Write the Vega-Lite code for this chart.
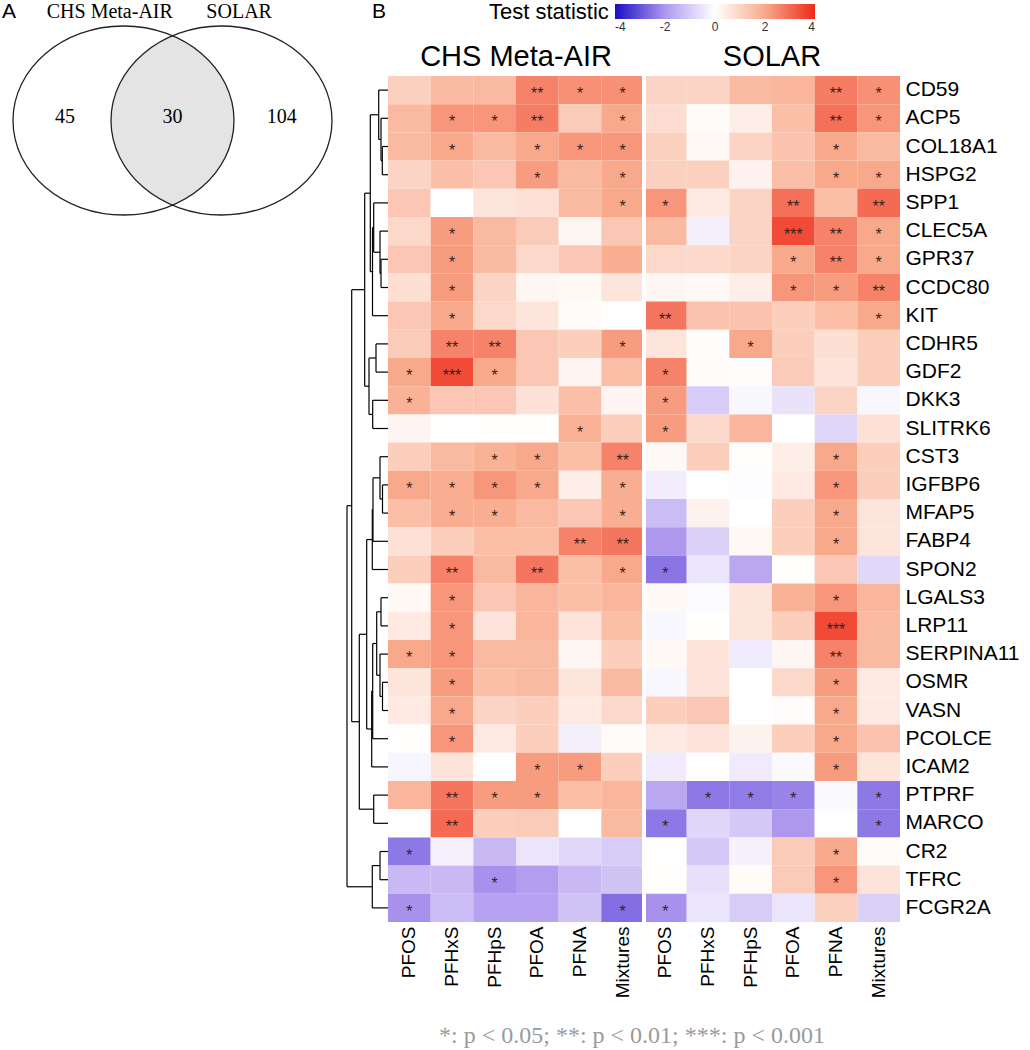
{
  "$schema": "https://vega.github.io/schema/vega-lite/v6.json",
  "autosize": {"type": "none"},
  "padding": {"left": 388, "top": 76, "right": 130, "bottom": 128},
  "width": 512,
  "height": 846,
  "background": "white",
  "config": {"view": {"stroke": null}, "text": {"font": "Liberation Sans"}, "axis": {"labelFont": "Liberation Sans"}, "legend": {"labelFont": "Liberation Sans", "titleFont": "Liberation Sans"}},
  "title": {"text": "*: p < 0.05; **: p < 0.01; ***: p < 0.001", "orient": "bottom", "anchor": "middle", "frame": "group", "font": "Liberation Serif", "fontSize": 24, "fontWeight": "normal", "color": "#9A9A9A", "offset": 26, "dx": -12},
  "datasets": {
    "cells": [
      {"g":"CD59","c":"CHS|PFOS","t":1.1,"s":""},{"g":"CD59","c":"CHS|PFHxS","t":1.6,"s":""},{"g":"CD59","c":"CHS|PFHpS","t":1.6,"s":""},{"g":"CD59","c":"CHS|PFOA","t":2.6,"s":"**"},{"g":"CD59","c":"CHS|PFNA","t":2.4,"s":"*"},{"g":"CD59","c":"CHS|Mixtures","t":2.4,"s":"*"},
      {"g":"CD59","c":"SOLAR|PFOS","t":1.0,"s":""},{"g":"CD59","c":"SOLAR|PFHxS","t":1.0,"s":""},{"g":"CD59","c":"SOLAR|PFHpS","t":1.6,"s":""},{"g":"CD59","c":"SOLAR|PFOA","t":1.7,"s":""},{"g":"CD59","c":"SOLAR|PFNA","t":2.7,"s":"**"},{"g":"CD59","c":"SOLAR|Mixtures","t":2.4,"s":"*"},
      {"g":"ACP5","c":"CHS|PFOS","t":1.6,"s":""},{"g":"ACP5","c":"CHS|PFHxS","t":2.3,"s":"*"},{"g":"ACP5","c":"CHS|PFHpS","t":2.3,"s":"*"},{"g":"ACP5","c":"CHS|PFOA","t":2.7,"s":"**"},{"g":"ACP5","c":"CHS|PFNA","t":1.2,"s":""},{"g":"ACP5","c":"CHS|Mixtures","t":2.0,"s":"*"},
      {"g":"ACP5","c":"SOLAR|PFOS","t":0.8,"s":""},{"g":"ACP5","c":"SOLAR|PFHxS","t":0.1,"s":""},{"g":"ACP5","c":"SOLAR|PFHpS","t":0.4,"s":""},{"g":"ACP5","c":"SOLAR|PFOA","t":1.5,"s":""},{"g":"ACP5","c":"SOLAR|PFNA","t":2.9,"s":"**"},{"g":"ACP5","c":"SOLAR|Mixtures","t":2.3,"s":"*"},
      {"g":"COL18A1","c":"CHS|PFOS","t":1.6,"s":""},{"g":"COL18A1","c":"CHS|PFHxS","t":2.0,"s":"*"},{"g":"COL18A1","c":"CHS|PFHpS","t":1.6,"s":""},{"g":"COL18A1","c":"CHS|PFOA","t":2.0,"s":"*"},{"g":"COL18A1","c":"CHS|PFNA","t":2.3,"s":"*"},{"g":"COL18A1","c":"CHS|Mixtures","t":2.3,"s":"*"},
      {"g":"COL18A1","c":"SOLAR|PFOS","t":1.1,"s":""},{"g":"COL18A1","c":"SOLAR|PFHxS","t":0.15,"s":""},{"g":"COL18A1","c":"SOLAR|PFHpS","t":1.0,"s":""},{"g":"COL18A1","c":"SOLAR|PFOA","t":1.4,"s":""},{"g":"COL18A1","c":"SOLAR|PFNA","t":2.0,"s":"*"},{"g":"COL18A1","c":"SOLAR|Mixtures","t":1.6,"s":""},
      {"g":"HSPG2","c":"CHS|PFOS","t":1.0,"s":""},{"g":"HSPG2","c":"CHS|PFHxS","t":1.5,"s":""},{"g":"HSPG2","c":"CHS|PFHpS","t":1.3,"s":""},{"g":"HSPG2","c":"CHS|PFOA","t":2.2,"s":"*"},{"g":"HSPG2","c":"CHS|PFNA","t":1.6,"s":""},{"g":"HSPG2","c":"CHS|Mixtures","t":2.0,"s":"*"},
      {"g":"HSPG2","c":"SOLAR|PFOS","t":1.1,"s":""},{"g":"HSPG2","c":"SOLAR|PFHxS","t":1.1,"s":""},{"g":"HSPG2","c":"SOLAR|PFHpS","t":0.3,"s":""},{"g":"HSPG2","c":"SOLAR|PFOA","t":1.5,"s":""},{"g":"HSPG2","c":"SOLAR|PFNA","t":2.0,"s":"*"},{"g":"HSPG2","c":"SOLAR|Mixtures","t":2.0,"s":"*"},
      {"g":"SPP1","c":"CHS|PFOS","t":1.3,"s":""},{"g":"SPP1","c":"CHS|PFHxS","t":0.0,"s":""},{"g":"SPP1","c":"CHS|PFHpS","t":0.6,"s":""},{"g":"SPP1","c":"CHS|PFOA","t":0.7,"s":""},{"g":"SPP1","c":"CHS|PFNA","t":1.6,"s":""},{"g":"SPP1","c":"CHS|Mixtures","t":2.0,"s":"*"},
      {"g":"SPP1","c":"SOLAR|PFOS","t":2.3,"s":"*"},{"g":"SPP1","c":"SOLAR|PFHxS","t":0.5,"s":""},{"g":"SPP1","c":"SOLAR|PFHpS","t":1.0,"s":""},{"g":"SPP1","c":"SOLAR|PFOA","t":2.9,"s":"**"},{"g":"SPP1","c":"SOLAR|PFNA","t":1.5,"s":""},{"g":"SPP1","c":"SOLAR|Mixtures","t":3.0,"s":"**"},
      {"g":"CLEC5A","c":"CHS|PFOS","t":0.9,"s":""},{"g":"CLEC5A","c":"CHS|PFHxS","t":2.2,"s":"*"},{"g":"CLEC5A","c":"CHS|PFHpS","t":1.6,"s":""},{"g":"CLEC5A","c":"CHS|PFOA","t":1.2,"s":""},{"g":"CLEC5A","c":"CHS|PFNA","t":0.2,"s":""},{"g":"CLEC5A","c":"CHS|Mixtures","t":1.3,"s":""},
      {"g":"CLEC5A","c":"SOLAR|PFOS","t":1.6,"s":""},{"g":"CLEC5A","c":"SOLAR|PFHxS","t":-0.3,"s":""},{"g":"CLEC5A","c":"SOLAR|PFHpS","t":1.0,"s":""},{"g":"CLEC5A","c":"SOLAR|PFOA","t":3.5,"s":"***"},{"g":"CLEC5A","c":"SOLAR|PFNA","t":2.6,"s":"**"},{"g":"CLEC5A","c":"SOLAR|Mixtures","t":2.0,"s":"*"},
      {"g":"GPR37","c":"CHS|PFOS","t":1.3,"s":""},{"g":"GPR37","c":"CHS|PFHxS","t":2.2,"s":"*"},{"g":"GPR37","c":"CHS|PFHpS","t":1.6,"s":""},{"g":"GPR37","c":"CHS|PFOA","t":0.9,"s":""},{"g":"GPR37","c":"CHS|PFNA","t":1.3,"s":""},{"g":"GPR37","c":"CHS|Mixtures","t":1.9,"s":""},
      {"g":"GPR37","c":"SOLAR|PFOS","t":0.9,"s":""},{"g":"GPR37","c":"SOLAR|PFHxS","t":0.9,"s":""},{"g":"GPR37","c":"SOLAR|PFHpS","t":1.0,"s":""},{"g":"GPR37","c":"SOLAR|PFOA","t":2.0,"s":"*"},{"g":"GPR37","c":"SOLAR|PFNA","t":2.6,"s":"**"},{"g":"GPR37","c":"SOLAR|Mixtures","t":2.0,"s":"*"},
      {"g":"CCDC80","c":"CHS|PFOS","t":0.75,"s":""},{"g":"CCDC80","c":"CHS|PFHxS","t":2.2,"s":"*"},{"g":"CCDC80","c":"CHS|PFHpS","t":1.0,"s":""},{"g":"CCDC80","c":"CHS|PFOA","t":0.2,"s":""},{"g":"CCDC80","c":"CHS|PFNA","t":0.15,"s":""},{"g":"CCDC80","c":"CHS|Mixtures","t":0.6,"s":""},
      {"g":"CCDC80","c":"SOLAR|PFOS","t":0.2,"s":""},{"g":"CCDC80","c":"SOLAR|PFHxS","t":0.15,"s":""},{"g":"CCDC80","c":"SOLAR|PFHpS","t":0.4,"s":""},{"g":"CCDC80","c":"SOLAR|PFOA","t":2.3,"s":"*"},{"g":"CCDC80","c":"SOLAR|PFNA","t":2.2,"s":"*"},{"g":"CCDC80","c":"SOLAR|Mixtures","t":2.6,"s":"**"},
      {"g":"KIT","c":"CHS|PFOS","t":1.3,"s":""},{"g":"KIT","c":"CHS|PFHxS","t":2.0,"s":"*"},{"g":"KIT","c":"CHS|PFHpS","t":0.9,"s":""},{"g":"KIT","c":"CHS|PFOA","t":0.6,"s":""},{"g":"KIT","c":"CHS|PFNA","t":0.1,"s":""},{"g":"KIT","c":"CHS|Mixtures","t":0.0,"s":""},
      {"g":"KIT","c":"SOLAR|PFOS","t":2.8,"s":"**"},{"g":"KIT","c":"SOLAR|PFHxS","t":1.4,"s":""},{"g":"KIT","c":"SOLAR|PFHpS","t":1.4,"s":""},{"g":"KIT","c":"SOLAR|PFOA","t":1.15,"s":""},{"g":"KIT","c":"SOLAR|PFNA","t":1.5,"s":""},{"g":"KIT","c":"SOLAR|Mixtures","t":2.0,"s":"*"},
      {"g":"CDHR5","c":"CHS|PFOS","t":1.2,"s":""},{"g":"CDHR5","c":"CHS|PFHxS","t":2.6,"s":"**"},{"g":"CDHR5","c":"CHS|PFHpS","t":2.6,"s":"**"},{"g":"CDHR5","c":"CHS|PFOA","t":1.3,"s":""},{"g":"CDHR5","c":"CHS|PFNA","t":1.15,"s":""},{"g":"CDHR5","c":"CHS|Mixtures","t":2.2,"s":"*"},
      {"g":"CDHR5","c":"SOLAR|PFOS","t":0.6,"s":""},{"g":"CDHR5","c":"SOLAR|PFHxS","t":0.05,"s":""},{"g":"CDHR5","c":"SOLAR|PFHpS","t":2.0,"s":"*"},{"g":"CDHR5","c":"SOLAR|PFOA","t":1.15,"s":""},{"g":"CDHR5","c":"SOLAR|PFNA","t":0.75,"s":""},{"g":"CDHR5","c":"SOLAR|Mixtures","t":1.15,"s":""},
      {"g":"GDF2","c":"CHS|PFOS","t":2.0,"s":"*"},{"g":"GDF2","c":"CHS|PFHxS","t":3.5,"s":"***"},{"g":"GDF2","c":"CHS|PFHpS","t":2.0,"s":"*"},{"g":"GDF2","c":"CHS|PFOA","t":1.3,"s":""},{"g":"GDF2","c":"CHS|PFNA","t":0.25,"s":""},{"g":"GDF2","c":"CHS|Mixtures","t":1.5,"s":""},
      {"g":"GDF2","c":"SOLAR|PFOS","t":2.6,"s":"*"},{"g":"GDF2","c":"SOLAR|PFHxS","t":0.1,"s":""},{"g":"GDF2","c":"SOLAR|PFHpS","t":0.05,"s":""},{"g":"GDF2","c":"SOLAR|PFOA","t":1.2,"s":""},{"g":"GDF2","c":"SOLAR|PFNA","t":0.65,"s":""},{"g":"GDF2","c":"SOLAR|Mixtures","t":1.15,"s":""},
      {"g":"DKK3","c":"CHS|PFOS","t":1.8,"s":"*"},{"g":"DKK3","c":"CHS|PFHxS","t":1.3,"s":""},{"g":"DKK3","c":"CHS|PFHpS","t":1.3,"s":""},{"g":"DKK3","c":"CHS|PFOA","t":0.7,"s":""},{"g":"DKK3","c":"CHS|PFNA","t":1.5,"s":""},{"g":"DKK3","c":"CHS|Mixtures","t":0.25,"s":""},
      {"g":"DKK3","c":"SOLAR|PFOS","t":2.2,"s":"*"},{"g":"DKK3","c":"SOLAR|PFHxS","t":-1.0,"s":""},{"g":"DKK3","c":"SOLAR|PFHpS","t":-0.15,"s":""},{"g":"DKK3","c":"SOLAR|PFOA","t":-0.55,"s":""},{"g":"DKK3","c":"SOLAR|PFNA","t":1.0,"s":""},{"g":"DKK3","c":"SOLAR|Mixtures","t":-0.15,"s":""},
      {"g":"SLITRK6","c":"CHS|PFOS","t":0.25,"s":""},{"g":"SLITRK6","c":"CHS|PFHxS","t":0.0,"s":""},{"g":"SLITRK6","c":"CHS|PFHpS","t":0.03,"s":""},{"g":"SLITRK6","c":"CHS|PFOA","t":0.03,"s":""},{"g":"SLITRK6","c":"CHS|PFNA","t":1.8,"s":"*"},{"g":"SLITRK6","c":"CHS|Mixtures","t":1.15,"s":""},
      {"g":"SLITRK6","c":"SOLAR|PFOS","t":2.2,"s":"*"},{"g":"SLITRK6","c":"SOLAR|PFHxS","t":0.9,"s":""},{"g":"SLITRK6","c":"SOLAR|PFHpS","t":1.7,"s":""},{"g":"SLITRK6","c":"SOLAR|PFOA","t":0.0,"s":""},{"g":"SLITRK6","c":"SOLAR|PFNA","t":-0.8,"s":""},{"g":"SLITRK6","c":"SOLAR|Mixtures","t":0.7,"s":""},
      {"g":"CST3","c":"CHS|PFOS","t":1.15,"s":""},{"g":"CST3","c":"CHS|PFHxS","t":1.6,"s":""},{"g":"CST3","c":"CHS|PFHpS","t":1.8,"s":"*"},{"g":"CST3","c":"CHS|PFOA","t":2.0,"s":"*"},{"g":"CST3","c":"CHS|PFNA","t":1.5,"s":""},{"g":"CST3","c":"CHS|Mixtures","t":2.6,"s":"**"},
      {"g":"CST3","c":"SOLAR|PFOS","t":0.15,"s":""},{"g":"CST3","c":"SOLAR|PFHxS","t":1.15,"s":""},{"g":"CST3","c":"SOLAR|PFHpS","t":0.03,"s":""},{"g":"CST3","c":"SOLAR|PFOA","t":0.4,"s":""},{"g":"CST3","c":"SOLAR|PFNA","t":2.0,"s":"*"},{"g":"CST3","c":"SOLAR|Mixtures","t":1.15,"s":""},
      {"g":"IGFBP6","c":"CHS|PFOS","t":2.0,"s":"*"},{"g":"IGFBP6","c":"CHS|PFHxS","t":1.9,"s":"*"},{"g":"IGFBP6","c":"CHS|PFHpS","t":2.3,"s":"*"},{"g":"IGFBP6","c":"CHS|PFOA","t":2.0,"s":"*"},{"g":"IGFBP6","c":"CHS|PFNA","t":0.4,"s":""},{"g":"IGFBP6","c":"CHS|Mixtures","t":1.9,"s":"*"},
      {"g":"IGFBP6","c":"SOLAR|PFOS","t":-0.35,"s":""},{"g":"IGFBP6","c":"SOLAR|PFHxS","t":0.0,"s":""},{"g":"IGFBP6","c":"SOLAR|PFHpS","t":-0.05,"s":""},{"g":"IGFBP6","c":"SOLAR|PFOA","t":0.5,"s":""},{"g":"IGFBP6","c":"SOLAR|PFNA","t":2.3,"s":"*"},{"g":"IGFBP6","c":"SOLAR|Mixtures","t":1.15,"s":""},
      {"g":"MFAP5","c":"CHS|PFOS","t":1.5,"s":""},{"g":"MFAP5","c":"CHS|PFHxS","t":1.9,"s":"*"},{"g":"MFAP5","c":"CHS|PFHpS","t":1.9,"s":"*"},{"g":"MFAP5","c":"CHS|PFOA","t":1.6,"s":""},{"g":"MFAP5","c":"CHS|PFNA","t":1.3,"s":""},{"g":"MFAP5","c":"CHS|Mixtures","t":1.9,"s":"*"},
      {"g":"MFAP5","c":"SOLAR|PFOS","t":-1.3,"s":""},{"g":"MFAP5","c":"SOLAR|PFHxS","t":0.3,"s":""},{"g":"MFAP5","c":"SOLAR|PFHpS","t":0.0,"s":""},{"g":"MFAP5","c":"SOLAR|PFOA","t":1.15,"s":""},{"g":"MFAP5","c":"SOLAR|PFNA","t":2.0,"s":"*"},{"g":"MFAP5","c":"SOLAR|Mixtures","t":0.6,"s":""},
      {"g":"FABP4","c":"CHS|PFOS","t":0.7,"s":""},{"g":"FABP4","c":"CHS|PFHxS","t":1.15,"s":""},{"g":"FABP4","c":"CHS|PFHpS","t":1.5,"s":""},{"g":"FABP4","c":"CHS|PFOA","t":1.5,"s":""},{"g":"FABP4","c":"CHS|PFNA","t":2.6,"s":"**"},{"g":"FABP4","c":"CHS|Mixtures","t":2.8,"s":"**"},
      {"g":"FABP4","c":"SOLAR|PFOS","t":-2.0,"s":""},{"g":"FABP4","c":"SOLAR|PFHxS","t":-0.9,"s":""},{"g":"FABP4","c":"SOLAR|PFHpS","t":0.15,"s":""},{"g":"FABP4","c":"SOLAR|PFOA","t":1.15,"s":""},{"g":"FABP4","c":"SOLAR|PFNA","t":2.0,"s":"*"},{"g":"FABP4","c":"SOLAR|Mixtures","t":0.6,"s":""},
      {"g":"SPON2","c":"CHS|PFOS","t":1.15,"s":""},{"g":"SPON2","c":"CHS|PFHxS","t":2.6,"s":"**"},{"g":"SPON2","c":"CHS|PFHpS","t":1.6,"s":""},{"g":"SPON2","c":"CHS|PFOA","t":2.8,"s":"**"},{"g":"SPON2","c":"CHS|PFNA","t":1.5,"s":""},{"g":"SPON2","c":"CHS|Mixtures","t":2.0,"s":"*"},
      {"g":"SPON2","c":"SOLAR|PFOS","t":-2.5,"s":"*"},{"g":"SPON2","c":"SOLAR|PFHxS","t":-0.5,"s":""},{"g":"SPON2","c":"SOLAR|PFHpS","t":-1.7,"s":""},{"g":"SPON2","c":"SOLAR|PFOA","t":0.03,"s":""},{"g":"SPON2","c":"SOLAR|PFNA","t":1.3,"s":""},{"g":"SPON2","c":"SOLAR|Mixtures","t":-0.75,"s":""},
      {"g":"LGALS3","c":"CHS|PFOS","t":0.15,"s":""},{"g":"LGALS3","c":"CHS|PFHxS","t":2.3,"s":"*"},{"g":"LGALS3","c":"CHS|PFHpS","t":1.3,"s":""},{"g":"LGALS3","c":"CHS|PFOA","t":1.7,"s":""},{"g":"LGALS3","c":"CHS|PFNA","t":1.5,"s":""},{"g":"LGALS3","c":"CHS|Mixtures","t":1.7,"s":""},
      {"g":"LGALS3","c":"SOLAR|PFOS","t":0.15,"s":""},{"g":"LGALS3","c":"SOLAR|PFHxS","t":-0.1,"s":""},{"g":"LGALS3","c":"SOLAR|PFHpS","t":0.6,"s":""},{"g":"LGALS3","c":"SOLAR|PFOA","t":1.8,"s":""},{"g":"LGALS3","c":"SOLAR|PFNA","t":2.3,"s":"*"},{"g":"LGALS3","c":"SOLAR|Mixtures","t":1.7,"s":""},
      {"g":"LRP11","c":"CHS|PFOS","t":0.5,"s":""},{"g":"LRP11","c":"CHS|PFHxS","t":2.3,"s":"*"},{"g":"LRP11","c":"CHS|PFHpS","t":0.65,"s":""},{"g":"LRP11","c":"CHS|PFOA","t":1.7,"s":""},{"g":"LRP11","c":"CHS|PFNA","t":0.65,"s":""},{"g":"LRP11","c":"CHS|Mixtures","t":1.5,"s":""},
      {"g":"LRP11","c":"SOLAR|PFOS","t":-0.15,"s":""},{"g":"LRP11","c":"SOLAR|PFHxS","t":0.03,"s":""},{"g":"LRP11","c":"SOLAR|PFHpS","t":0.6,"s":""},{"g":"LRP11","c":"SOLAR|PFOA","t":1.15,"s":""},{"g":"LRP11","c":"SOLAR|PFNA","t":3.5,"s":"***"},{"g":"LRP11","c":"SOLAR|Mixtures","t":1.6,"s":""},
      {"g":"SERPINA11","c":"CHS|PFOS","t":2.0,"s":"*"},{"g":"SERPINA11","c":"CHS|PFHxS","t":2.3,"s":"*"},{"g":"SERPINA11","c":"CHS|PFHpS","t":1.6,"s":""},{"g":"SERPINA11","c":"CHS|PFOA","t":1.6,"s":""},{"g":"SERPINA11","c":"CHS|PFNA","t":0.2,"s":""},{"g":"SERPINA11","c":"CHS|Mixtures","t":1.15,"s":""},
      {"g":"SERPINA11","c":"SOLAR|PFOS","t":0.15,"s":""},{"g":"SERPINA11","c":"SOLAR|PFHxS","t":0.65,"s":""},{"g":"SERPINA11","c":"SOLAR|PFHpS","t":-0.4,"s":""},{"g":"SERPINA11","c":"SOLAR|PFOA","t":0.2,"s":""},{"g":"SERPINA11","c":"SOLAR|PFNA","t":2.6,"s":"**"},{"g":"SERPINA11","c":"SOLAR|Mixtures","t":1.6,"s":""},
      {"g":"OSMR","c":"CHS|PFOS","t":0.6,"s":""},{"g":"OSMR","c":"CHS|PFHxS","t":2.2,"s":"*"},{"g":"OSMR","c":"CHS|PFHpS","t":1.5,"s":""},{"g":"OSMR","c":"CHS|PFOA","t":1.6,"s":""},{"g":"OSMR","c":"CHS|PFNA","t":0.6,"s":""},{"g":"OSMR","c":"CHS|Mixtures","t":1.6,"s":""},
      {"g":"OSMR","c":"SOLAR|PFOS","t":-0.15,"s":""},{"g":"OSMR","c":"SOLAR|PFHxS","t":0.65,"s":""},{"g":"OSMR","c":"SOLAR|PFHpS","t":0.0,"s":""},{"g":"OSMR","c":"SOLAR|PFOA","t":0.9,"s":""},{"g":"OSMR","c":"SOLAR|PFNA","t":2.2,"s":"*"},{"g":"OSMR","c":"SOLAR|Mixtures","t":0.5,"s":""},
      {"g":"VASN","c":"CHS|PFOS","t":0.5,"s":""},{"g":"VASN","c":"CHS|PFHxS","t":2.0,"s":"*"},{"g":"VASN","c":"CHS|PFHpS","t":1.0,"s":""},{"g":"VASN","c":"CHS|PFOA","t":1.15,"s":""},{"g":"VASN","c":"CHS|PFNA","t":0.5,"s":""},{"g":"VASN","c":"CHS|Mixtures","t":0.9,"s":""},
      {"g":"VASN","c":"SOLAR|PFOS","t":1.15,"s":""},{"g":"VASN","c":"SOLAR|PFHxS","t":1.3,"s":""},{"g":"VASN","c":"SOLAR|PFHpS","t":0.0,"s":""},{"g":"VASN","c":"SOLAR|PFOA","t":0.07,"s":""},{"g":"VASN","c":"SOLAR|PFNA","t":2.0,"s":"*"},{"g":"VASN","c":"SOLAR|Mixtures","t":0.5,"s":""},
      {"g":"PCOLCE","c":"CHS|PFOS","t":0.03,"s":""},{"g":"PCOLCE","c":"CHS|PFHxS","t":2.3,"s":"*"},{"g":"PCOLCE","c":"CHS|PFHpS","t":0.5,"s":""},{"g":"PCOLCE","c":"CHS|PFOA","t":1.15,"s":""},{"g":"PCOLCE","c":"CHS|PFNA","t":-0.3,"s":""},{"g":"PCOLCE","c":"CHS|Mixtures","t":0.1,"s":""},
      {"g":"PCOLCE","c":"SOLAR|PFOS","t":0.5,"s":""},{"g":"PCOLCE","c":"SOLAR|PFHxS","t":0.65,"s":""},{"g":"PCOLCE","c":"SOLAR|PFHpS","t":0.3,"s":""},{"g":"PCOLCE","c":"SOLAR|PFOA","t":1.15,"s":""},{"g":"PCOLCE","c":"SOLAR|PFNA","t":2.0,"s":"*"},{"g":"PCOLCE","c":"SOLAR|Mixtures","t":1.4,"s":""},
      {"g":"ICAM2","c":"CHS|PFOS","t":-0.2,"s":""},{"g":"ICAM2","c":"CHS|PFHxS","t":0.65,"s":""},{"g":"ICAM2","c":"CHS|PFHpS","t":-0.03,"s":""},{"g":"ICAM2","c":"CHS|PFOA","t":2.2,"s":"*"},{"g":"ICAM2","c":"CHS|PFNA","t":2.2,"s":"*"},{"g":"ICAM2","c":"CHS|Mixtures","t":1.15,"s":""},
      {"g":"ICAM2","c":"SOLAR|PFOS","t":-0.4,"s":""},{"g":"ICAM2","c":"SOLAR|PFHxS","t":0.0,"s":""},{"g":"ICAM2","c":"SOLAR|PFHpS","t":-0.4,"s":""},{"g":"ICAM2","c":"SOLAR|PFOA","t":-0.12,"s":""},{"g":"ICAM2","c":"SOLAR|PFNA","t":2.2,"s":"*"},{"g":"ICAM2","c":"SOLAR|Mixtures","t":0.6,"s":""},
      {"g":"PTPRF","c":"CHS|PFOS","t":1.7,"s":""},{"g":"PTPRF","c":"CHS|PFHxS","t":2.8,"s":"**"},{"g":"PTPRF","c":"CHS|PFHpS","t":2.2,"s":"*"},{"g":"PTPRF","c":"CHS|PFOA","t":2.2,"s":"*"},{"g":"PTPRF","c":"CHS|PFNA","t":1.5,"s":""},{"g":"PTPRF","c":"CHS|Mixtures","t":1.7,"s":""},
      {"g":"PTPRF","c":"SOLAR|PFOS","t":-1.7,"s":""},{"g":"PTPRF","c":"SOLAR|PFHxS","t":-2.45,"s":"*"},{"g":"PTPRF","c":"SOLAR|PFHpS","t":-2.4,"s":"*"},{"g":"PTPRF","c":"SOLAR|PFOA","t":-2.3,"s":"*"},{"g":"PTPRF","c":"SOLAR|PFNA","t":-0.12,"s":""},{"g":"PTPRF","c":"SOLAR|Mixtures","t":-2.45,"s":"*"},
      {"g":"MARCO","c":"CHS|PFOS","t":-0.02,"s":""},{"g":"MARCO","c":"CHS|PFHxS","t":3.0,"s":"**"},{"g":"MARCO","c":"CHS|PFHpS","t":1.15,"s":""},{"g":"MARCO","c":"CHS|PFOA","t":1.2,"s":""},{"g":"MARCO","c":"CHS|PFNA","t":0.0,"s":""},{"g":"MARCO","c":"CHS|Mixtures","t":1.6,"s":""},
      {"g":"MARCO","c":"SOLAR|PFOS","t":-2.45,"s":"*"},{"g":"MARCO","c":"SOLAR|PFHxS","t":-0.8,"s":""},{"g":"MARCO","c":"SOLAR|PFHpS","t":-1.05,"s":""},{"g":"MARCO","c":"SOLAR|PFOA","t":-2.0,"s":""},{"g":"MARCO","c":"SOLAR|PFNA","t":-0.02,"s":""},{"g":"MARCO","c":"SOLAR|Mixtures","t":-2.45,"s":"*"},
      {"g":"CR2","c":"CHS|PFOS","t":-2.45,"s":"*"},{"g":"CR2","c":"CHS|PFHxS","t":-0.25,"s":""},{"g":"CR2","c":"CHS|PFHpS","t":-1.35,"s":""},{"g":"CR2","c":"CHS|PFOA","t":-0.5,"s":""},{"g":"CR2","c":"CHS|PFNA","t":-0.75,"s":""},{"g":"CR2","c":"CHS|Mixtures","t":-1.0,"s":""},
      {"g":"CR2","c":"SOLAR|PFOS","t":-0.02,"s":""},{"g":"CR2","c":"SOLAR|PFHxS","t":-1.05,"s":""},{"g":"CR2","c":"SOLAR|PFHpS","t":-0.25,"s":""},{"g":"CR2","c":"SOLAR|PFOA","t":1.2,"s":""},{"g":"CR2","c":"SOLAR|PFNA","t":2.0,"s":"*"},{"g":"CR2","c":"SOLAR|Mixtures","t":0.1,"s":""},
      {"g":"TFRC","c":"CHS|PFOS","t":-1.35,"s":""},{"g":"TFRC","c":"CHS|PFHxS","t":-1.35,"s":""},{"g":"TFRC","c":"CHS|PFHpS","t":-2.1,"s":"*"},{"g":"TFRC","c":"CHS|PFOA","t":-1.9,"s":""},{"g":"TFRC","c":"CHS|PFNA","t":-1.35,"s":""},{"g":"TFRC","c":"CHS|Mixtures","t":-1.15,"s":""},
      {"g":"TFRC","c":"SOLAR|PFOS","t":0.03,"s":""},{"g":"TFRC","c":"SOLAR|PFHxS","t":-0.6,"s":""},{"g":"TFRC","c":"SOLAR|PFHpS","t":0.1,"s":""},{"g":"TFRC","c":"SOLAR|PFOA","t":1.2,"s":""},{"g":"TFRC","c":"SOLAR|PFNA","t":2.3,"s":"*"},{"g":"TFRC","c":"SOLAR|Mixtures","t":0.65,"s":""},
      {"g":"FCGR2A","c":"CHS|PFOS","t":-2.1,"s":"*"},{"g":"FCGR2A","c":"CHS|PFHxS","t":-1.3,"s":""},{"g":"FCGR2A","c":"CHS|PFHpS","t":-1.8,"s":""},{"g":"FCGR2A","c":"CHS|PFOA","t":-1.8,"s":""},{"g":"FCGR2A","c":"CHS|PFNA","t":-1.15,"s":""},{"g":"FCGR2A","c":"CHS|Mixtures","t":-2.6,"s":"*"},
      {"g":"FCGR2A","c":"SOLAR|PFOS","t":-2.1,"s":"*"},{"g":"FCGR2A","c":"SOLAR|PFHxS","t":-0.5,"s":""},{"g":"FCGR2A","c":"SOLAR|PFHpS","t":-1.0,"s":""},{"g":"FCGR2A","c":"SOLAR|PFOA","t":-0.5,"s":""},{"g":"FCGR2A","c":"SOLAR|PFNA","t":1.1,"s":""},{"g":"FCGR2A","c":"SOLAR|Mixtures","t":-0.9,"s":""}
    ],
    "tree": [
      {"h1":5.7,"h2":5.7,"p1":3,"p2":4},{"h1":5.7,"h2":0,"p1":3,"p2":3},{"h1":5.7,"h2":0,"p1":4,"p2":4},
      {"h1":7,"h2":7,"p1":2,"p2":3.5},{"h1":7,"h2":0,"p1":2,"p2":2},{"h1":7,"h2":5.7,"p1":3.5,"p2":3.5},
      {"h1":9.3,"h2":9.3,"p1":1,"p2":2.75},{"h1":9.3,"h2":0,"p1":1,"p2":1},{"h1":9.3,"h2":7,"p1":2.75,"p2":2.75},
      {"h1":7,"h2":7,"p1":7,"p2":8},{"h1":7,"h2":0,"p1":7,"p2":7},{"h1":7,"h2":0,"p1":8,"p2":8},
      {"h1":8,"h2":8,"p1":6,"p2":7.5},{"h1":8,"h2":0,"p1":6,"p2":6},{"h1":8,"h2":7,"p1":7.5,"p2":7.5},
      {"h1":14.3,"h2":14.3,"p1":5,"p2":6.75},{"h1":14.3,"h2":0,"p1":5,"p2":5},{"h1":14.3,"h2":8,"p1":6.75,"p2":6.75},
      {"h1":15.5,"h2":15.5,"p1":5.875,"p2":9},{"h1":15.5,"h2":14.3,"p1":5.875,"p2":5.875},{"h1":15.5,"h2":0,"p1":9,"p2":9},
      {"h1":17.7,"h2":17.7,"p1":1.875,"p2":7.4375},{"h1":17.7,"h2":9.3,"p1":1.875,"p2":1.875},{"h1":17.7,"h2":15.5,"p1":7.4375,"p2":7.4375},
      {"h1":12,"h2":12,"p1":10,"p2":11},{"h1":12,"h2":0,"p1":10,"p2":10},{"h1":12,"h2":0,"p1":11,"p2":11},
      {"h1":15.3,"h2":15.3,"p1":12,"p2":13},{"h1":15.3,"h2":0,"p1":12,"p2":12},{"h1":15.3,"h2":0,"p1":13,"p2":13},
      {"h1":19,"h2":19,"p1":10.5,"p2":12.5},{"h1":19,"h2":12,"p1":10.5,"p2":10.5},{"h1":19,"h2":15.3,"p1":12.5,"p2":12.5},
      {"h1":23.3,"h2":23.3,"p1":4.656,"p2":11.5},{"h1":23.3,"h2":17.7,"p1":4.656,"p2":4.656},{"h1":23.3,"h2":19,"p1":11.5,"p2":11.5},
      {"h1":5.5,"h2":5.5,"p1":15,"p2":16},{"h1":5.5,"h2":0,"p1":15,"p2":15},{"h1":5.5,"h2":0,"p1":16,"p2":16},
      {"h1":8,"h2":8,"p1":14,"p2":15.5},{"h1":8,"h2":0,"p1":14,"p2":14},{"h1":8,"h2":5.5,"p1":15.5,"p2":15.5},
      {"h1":15,"h2":15,"p1":14.75,"p2":17},{"h1":15,"h2":8,"p1":14.75,"p2":14.75},{"h1":15,"h2":0,"p1":17,"p2":17},
      {"h1":15.7,"h2":15.7,"p1":15.875,"p2":18},{"h1":15.7,"h2":15,"p1":15.875,"p2":15.875},{"h1":15.7,"h2":0,"p1":18,"p2":18},
      {"h1":7,"h2":7,"p1":19,"p2":20},{"h1":7,"h2":0,"p1":19,"p2":19},{"h1":7,"h2":0,"p1":20,"p2":20},
      {"h1":5.5,"h2":5.5,"p1":22,"p2":23},{"h1":5.5,"h2":0,"p1":22,"p2":22},{"h1":5.5,"h2":0,"p1":23,"p2":23},
      {"h1":8,"h2":8,"p1":21,"p2":22.5},{"h1":8,"h2":0,"p1":21,"p2":21},{"h1":8,"h2":5.5,"p1":22.5,"p2":22.5},
      {"h1":11.3,"h2":11.3,"p1":19.5,"p2":21.75},{"h1":11.3,"h2":7,"p1":19.5,"p2":19.5},{"h1":11.3,"h2":8,"p1":21.75,"p2":21.75},
      {"h1":15.3,"h2":15.3,"p1":20.625,"p2":24},{"h1":15.3,"h2":11.3,"p1":20.625,"p2":20.625},{"h1":15.3,"h2":0,"p1":24,"p2":24},
      {"h1":16.3,"h2":16.3,"p1":22.3125,"p2":25},{"h1":16.3,"h2":15.3,"p1":22.3125,"p2":22.3125},{"h1":16.3,"h2":0,"p1":25,"p2":25},
      {"h1":21.3,"h2":21.3,"p1":16.9375,"p2":23.656},{"h1":21.3,"h2":15.7,"p1":16.9375,"p2":16.9375},{"h1":21.3,"h2":16.3,"p1":23.656,"p2":23.656},
      {"h1":14.3,"h2":14.3,"p1":26,"p2":27},{"h1":14.3,"h2":0,"p1":26,"p2":26},{"h1":14.3,"h2":0,"p1":27,"p2":27},
      {"h1":28.7,"h2":28.7,"p1":20.297,"p2":26.5},{"h1":28.7,"h2":21.3,"p1":20.297,"p2":20.297},{"h1":28.7,"h2":14.3,"p1":26.5,"p2":26.5},
      {"h1":36.3,"h2":36.3,"p1":8.078,"p2":23.398},{"h1":36.3,"h2":23.3,"p1":8.078,"p2":8.078},{"h1":36.3,"h2":28.7,"p1":23.398,"p2":23.398},
      {"h1":8,"h2":8,"p1":28,"p2":29},{"h1":8,"h2":0,"p1":28,"p2":28},{"h1":8,"h2":0,"p1":29,"p2":29},
      {"h1":15.7,"h2":15.7,"p1":28.5,"p2":30},{"h1":15.7,"h2":8,"p1":28.5,"p2":28.5},{"h1":15.7,"h2":0,"p1":30,"p2":30},
      {"h1":41,"h2":41,"p1":15.738,"p2":29.25},{"h1":41,"h2":36.3,"p1":15.738,"p2":15.738},{"h1":41,"h2":15.7,"p1":29.25,"p2":29.25}
    ]
  },
  "layer": [
    {
      "encoding": {
        "x": {"field": "c", "type": "nominal",
          "scale": {"domain": ["CHS|PFOS","CHS|PFHxS","CHS|PFHpS","CHS|PFOA","CHS|PFNA","CHS|Mixtures","SOLAR|PFOS","SOLAR|PFHxS","SOLAR|PFHpS","SOLAR|PFOA","SOLAR|PFNA","SOLAR|Mixtures"], "paddingInner": 0, "paddingOuter": 0},
          "axis": {"orient": "bottom", "title": null, "labelExpr": "split(datum.label, '|')[1]", "labelAngle": -90, "labelAlign": "right", "labelBaseline": "middle", "labelFontSize": 19, "labelColor": "black", "labelPadding": 4, "ticks": false, "domain": false}},
        "y": {"field": "g", "type": "nominal",
          "scale": {"domain": ["CD59","ACP5","COL18A1","HSPG2","SPP1","CLEC5A","GPR37","CCDC80","KIT","CDHR5","GDF2","DKK3","SLITRK6","CST3","IGFBP6","MFAP5","FABP4","SPON2","LGALS3","LRP11","SERPINA11","OSMR","VASN","PCOLCE","ICAM2","PTPRF","MARCO","CR2","TFRC","FCGR2A"], "paddingInner": 0, "paddingOuter": 0},
          "axis": {"orient": "right", "title": null, "labelFontSize": 21, "labelColor": "black", "labelPadding": 5, "ticks": false, "domain": false}}
      },
      "layer": [
        {
          "data": {"name": "cells"},
          "mark": {"type": "rect"},
          "encoding": {
            "color": {"field": "t", "type": "quantitative",
              "scale": {"domain": [-4, -2, 0, 2, 4], "range": ["#1A0DC6", "#AE98EE", "#FFFFFF", "#F9A98B", "#EE2A1A"], "interpolate": "rgb"},
              "legend": {"orient": "none", "legendX": 101, "legendY": -72, "direction": "horizontal", "title": "Test statistic", "titleOrient": "left", "titleFontSize": 22, "titleFontWeight": "normal", "titleColor": "black", "titlePadding": 6, "gradientLength": 200, "gradientThickness": 15, "values": [-4, -2, 0, 2, 4], "labelExpr": "'' + datum.value", "labelFontSize": 12, "labelColor": "#333333", "labelOffset": 3}}
          }
        },
        {
          "data": {"name": "cells"},
          "mark": {"type": "text", "fontSize": 16, "color": "#3A1E1A", "baseline": "middle", "dy": 4},
          "encoding": {"text": {"field": "s"}}
        }
      ]
    },
    {
      "data": {"values": [{"c": "SOLAR|PFOS"}]},
      "mark": {"type": "rule", "color": "white", "strokeWidth": 4},
      "encoding": {"x": {"field": "c", "type": "nominal", "bandPosition": 0,
        "scale": {"type": "band", "domain": ["CHS|PFOS","CHS|PFHxS","CHS|PFHpS","CHS|PFOA","CHS|PFNA","CHS|Mixtures","SOLAR|PFOS","SOLAR|PFHxS","SOLAR|PFHpS","SOLAR|PFOA","SOLAR|PFNA","SOLAR|Mixtures"], "paddingInner": 0, "paddingOuter": 0}, "axis": null}}
    },
    {
      "data": {"values": [{"label": "CHS Meta-AIR", "c": "CHS|PFOA", "g": "CD59"}, {"label": "SOLAR", "c": "SOLAR|PFOA", "g": "CD59"}]},
      "mark": {"type": "text", "fontSize": 29, "color": "black", "baseline": "alphabetic", "align": "center", "dy": -10},
      "encoding": {
        "x": {"field": "c", "type": "nominal", "bandPosition": 0,
          "scale": {"type": "band", "domain": ["CHS|PFOS","CHS|PFHxS","CHS|PFHpS","CHS|PFOA","CHS|PFNA","CHS|Mixtures","SOLAR|PFOS","SOLAR|PFHxS","SOLAR|PFHpS","SOLAR|PFOA","SOLAR|PFNA","SOLAR|Mixtures"], "paddingInner": 0, "paddingOuter": 0}, "axis": null},
        "y": {"field": "g", "type": "nominal", "bandPosition": 0,
          "scale": {"type": "band", "domain": ["CD59","ACP5","COL18A1","HSPG2","SPP1","CLEC5A","GPR37","CCDC80","KIT","CDHR5","GDF2","DKK3","SLITRK6","CST3","IGFBP6","MFAP5","FABP4","SPON2","LGALS3","LRP11","SERPINA11","OSMR","VASN","PCOLCE","ICAM2","PTPRF","MARCO","CR2","TFRC","FCGR2A"], "paddingInner": 0, "paddingOuter": 0}, "axis": null},
        "text": {"field": "label"}
      }
    },
    {
      "data": {"name": "tree"},
      "mark": {"type": "rule", "color": "black", "strokeWidth": 1.2},
      "encoding": {
        "x": {"field": "h1", "type": "quantitative", "scale": {"domain": [0, 41], "range": [0, -41], "nice": false, "zero": false}, "axis": null},
        "x2": {"field": "h2"},
        "y": {"field": "p1", "type": "quantitative", "scale": {"domain": [0.5, 30.5], "reverse": true, "nice": false, "zero": false}, "axis": null},
        "y2": {"field": "p2"}
      }
    },
    {
      "layer": [
        {
          "data": {"values": [{"region": "CHS Meta-AIR ∩ SOLAR", "u": 0.5, "v": 0}]},
          "mark": {"type": "point", "filled": true, "color": "#E4E4E4", "opacity": 1, "size": 48841, "shape": "M 0 -0.7663 C 0.3409 -0.6221 0.5566 -0.3252 0.5566 0 C 0.5566 0.3252 0.3409 0.6221 0 0.7663 C -0.3409 0.6221 -0.5566 0.3252 -0.5566 0 C -0.5566 -0.3252 -0.3409 -0.6221 0 -0.7663 Z"},
          "encoding": {
            "x": {"field": "u", "type": "quantitative", "scale": {"domain": [-1, 2], "range": [-362.5, -68.5], "nice": false, "zero": false}, "axis": null},
            "y": {"field": "v", "type": "quantitative", "scale": {"domain": [-1, 1], "range": [-53.5, 142.5], "nice": false, "zero": false}, "axis": null}
          }
        },
        {
          "data": {"values": [{"set": "CHS Meta-AIR", "u": 0, "v": 0}, {"set": "SOLAR", "u": 1, "v": 0}]},
          "mark": {"type": "point", "filled": false, "stroke": "#222222", "strokeWidth": 1.3, "opacity": 1, "size": 48841, "shape": "M -1 0 C -1 -0.4722 -0.5523 -0.855 0 -0.855 C 0.5523 -0.855 1 -0.4722 1 0 C 1 0.4722 0.5523 0.855 0 0.855 C -0.5523 0.855 -1 0.4722 -1 0 Z"},
          "encoding": {
            "x": {"field": "u", "type": "quantitative", "scale": {"domain": [-1, 2], "range": [-362.5, -68.5], "nice": false, "zero": false}, "axis": null},
            "y": {"field": "v", "type": "quantitative", "scale": {"domain": [-1, 1], "range": [-53.5, 142.5], "nice": false, "zero": false}, "axis": null}
          }
        },
        {
          "data": {"values": [
            {"label": "45", "u": -0.597, "v": 0.029},
            {"label": "30", "u": 0.5, "v": 0.029},
            {"label": "104", "u": 1.614, "v": 0.029},
            {"label": "CHS Meta-AIR", "u": -0.14, "v": -1.043},
            {"label": "SOLAR", "u": 1.18, "v": -1.043}
          ]},
          "mark": {"type": "text", "font": "Liberation Serif", "fontSize": 20, "color": "black", "baseline": "alphabetic", "align": "center"},
          "encoding": {
            "x": {"field": "u", "type": "quantitative", "scale": {"domain": [-1, 2], "range": [-362.5, -68.5], "nice": false, "zero": false}, "axis": null},
            "y": {"field": "v", "type": "quantitative", "scale": {"domain": [-1, 1], "range": [-53.5, 142.5], "nice": false, "zero": false}, "axis": null},
            "text": {"field": "label"}
          }
        },
        {
          "data": {"values": [
            {"label": "A", "u": -1.168, "v": -1.043},
            {"label": "B", "u": 2.607, "v": -1.046}
          ]},
          "mark": {"type": "text", "font": "Liberation Sans", "fontSize": 21, "color": "black", "baseline": "alphabetic", "align": "center"},
          "encoding": {
            "x": {"field": "u", "type": "quantitative", "scale": {"domain": [-1, 2], "range": [-362.5, -68.5], "nice": false, "zero": false}, "axis": null},
            "y": {"field": "v", "type": "quantitative", "scale": {"domain": [-1, 1], "range": [-53.5, 142.5], "nice": false, "zero": false}, "axis": null},
            "text": {"field": "label"}
          }
        }
      ]
    }
  ],
  "resolve": {"scale": {"x": "independent", "y": "independent"}, "axis": {"x": "independent", "y": "independent"}}
}
